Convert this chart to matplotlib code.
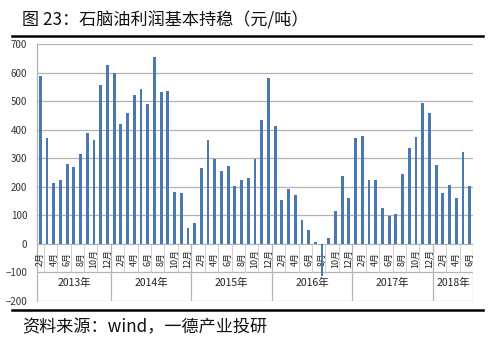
import numpy as np
import matplotlib
matplotlib.use('Agg')
import matplotlib.pyplot as plt
from matplotlib.lines import Line2D

plt.rcParams['font.family'] = ['Noto Sans CJK SC', 'DejaVu Sans']

# monthly naphtha profit, Feb 2013 - Jun 2018 (yuan/ton)
y2013 = [588, 370, 212, 223, 281, 270, 316, 388, 365, 555, 626]
y2014 = [598, 419, 459, 521, 542, 491, 656, 533, 535, 183, 179, 56]
y2015 = [74, 266, 363, 297, 257, 274, 202, 223, 229, 297, 433, 581]
y2016 = [414, 153, 193, 171, 85, 47, 7, -114, 19, 116, 238, 160]
y2017 = [371, 378, 223, 223, 127, 99, 105, 244, 335, 376, 492, 458]
y2018 = [276, 178, 207, 159, 323, 202]
years = ['2013年', '2014年', '2015年', '2016年', '2017年', '2018年']
first_month = [2, 1, 1, 1, 1, 1]

series = [y2013, y2014, y2015, y2016, y2017, y2018]
values = np.concatenate(series)
months = []
for fm, s in zip(first_month, series):
    months += list(range(fm, fm + len(s)))
x = np.arange(len(values))

fig = plt.figure(figsize=(5.0, 3.45), dpi=100)
ax = fig.add_axes([37/500, 1-301/345, 436/500, 257/345])

ax.bar(x, values, width=0.42, color='#4a78b0', zorder=4)
ax.set_xlim(-0.5, len(values) - 0.5)
ax.set_ylim(-200, 700)
ax.set_yticks(np.arange(-200, 701, 100))
ax.yaxis.grid(True, color='#b4b4b4', lw=0.9, zorder=0)
ax.set_axisbelow(True)
ax.tick_params(axis='y', length=0, pad=7, labelsize=7, labelcolor='#333333')
ax.set_xticks([])
for sp in ['top', 'right', 'bottom']:
    ax.spines[sp].set_visible(False)
ax.spines['left'].set_color('#b4b4b4')
ax.spines['left'].set_linewidth(0.9)

# month labels (every other month)
for xi, m in zip(x, months):
    if m % 2 == 0:
        ax.text(xi, -52, f'{m}月', rotation=90, ha='center', va='center',
                fontsize=6.4, color='#222222', zorder=3)
# small separators in the month tier
for b in np.arange(0.5, len(values) - 0.5, 2):
    ax.plot([b, b], [0, -100], color='#c8c8c8', lw=0.6, zorder=1)

# year tier
start = -0.5
for yl, s in zip(years, series):
    end = start + len(s)
    ax.plot([end, end], [0, -200], color='#b4b4b4', lw=0.9, zorder=1)
    ax.text((start + end) / 2, -137, yl, ha='center', va='center',
            fontsize=7.5, color='#222222')
    start = end

fig.text(22/500, 1-20/345, '图 23：石脑油利润基本持稳（元/吨）', fontsize=12.3,
         ha='left', va='center', color='#111111')
fig.add_artist(Line2D([12/500, 483/500], [1-36/345, 1-36/345], color='black', lw=1.8))
fig.add_artist(Line2D([12/500, 483/500], [1-310/345, 1-310/345], color='black', lw=1.8))
fig.text(22/500, 1-327/345, '资料来源：wind，一德产业投研', fontsize=12.3,
         ha='left', va='center', color='#111111')

fig.savefig('out.png', dpi=100, facecolor='white')
